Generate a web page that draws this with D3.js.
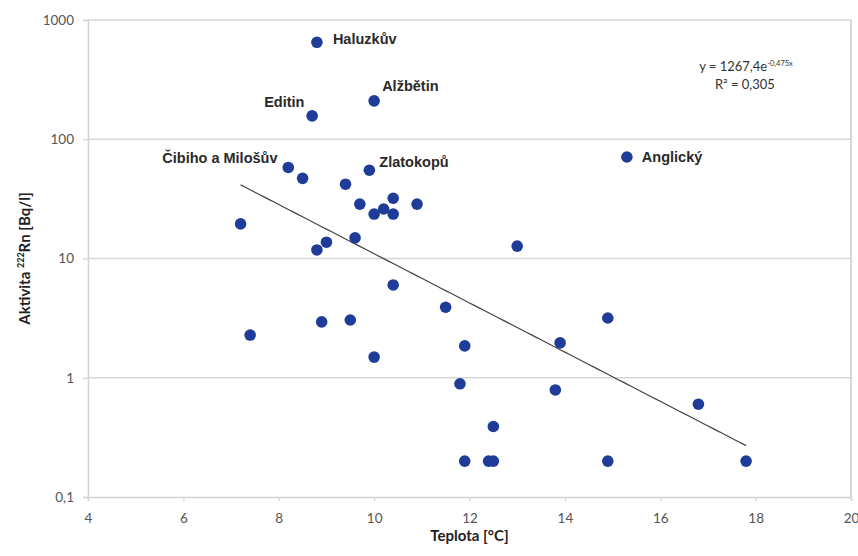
<!DOCTYPE html>
<html>
<head>
<meta charset="utf-8">
<script src="https://cdn.jsdelivr.net/npm/d3@7"></script>
<style>
  body { margin: 0; background: #fff; }
  svg { display: block; }
</style>
</head>
<body>
<svg id="chart" width="858" height="556"></svg>
<script>
// teplota [°C] a aktivita 222Rn [Bq/l]
const temps = [8.8, 10.0, 8.7, 15.3, 8.2, 8.5, 9.4, 9.9, 9.7, 10.0, 10.2, 10.4, 10.4, 10.9,
  7.2, 9.6, 9.0, 8.8, 13.0, 10.4, 11.5, 7.4, 8.9, 9.5, 10.0, 11.9, 14.9, 13.9,
  11.8, 13.8, 16.8, 12.5, 11.9, 12.4, 12.5, 14.9, 17.8];
const activity = [650, 210, 157, 71, 58, 47, 42, 55, 28.6, 23.6, 26, 32, 23.6, 28.6,
  19.5, 14.9, 13.7, 11.8, 12.7, 6.0, 3.9, 2.28, 2.94, 3.05, 1.49, 1.85, 3.17, 1.96,
  0.89, 0.79, 0.60, 0.39, 0.2, 0.2, 0.2, 0.2, 0.2];

// popisky pramenů (index bodu, text, posun)
const names = [
  { i: 0, text: 'Haluzkův', dx: 16, dy: -3 },
  { i: 1, text: 'Alžbětin', dx: 8, dy: -15 },
  { i: 2, text: 'Editin', dx: -48, dy: -14 },
  { i: 3, text: 'Anglický', dx: 15, dy: 0 },
  { i: 4, text: 'Čibiho a Milošův', dx: -126, dy: -10 },
  { i: 7, text: 'Zlatokopů', dx: 10, dy: -8 }
];

const xTicks = [4, 6, 8, 10, 12, 14, 16, 18, 20];
const yTicks = [0.1, 1, 10, 100, 1000];

// exponenciální trend y = 1267,4e^(-0,475x)
const trendA = 1267.4, trendB = -0.475;

const svg = d3.select('#chart');
const mLeft = 88, mRight = 851, mTop = 20, mBottom = 497;

const x = d3.scaleLinear().domain([4, 20]).range([mLeft, mRight]);
const y = d3.scaleLog().domain([0.1, 1000]).range([mBottom, mTop]);

const fmt = d => String(d).replace('.', ',');

// mřížka
svg.append('g').selectAll('line')
  .data(yTicks.slice(1))
  .join('line')
  .attr('x1', mLeft).attr('x2', mRight)
  .attr('y1', d => y(d)).attr('y2', d => y(d))
  .attr('stroke', '#d4d6da').attr('stroke-width', 1.5);

// pravý okraj
svg.append('line')
  .attr('x1', mRight).attr('x2', mRight).attr('y1', mTop).attr('y2', mBottom)
  .attr('stroke', '#c6cbd6').attr('stroke-width', 1.5);

// osy
const xAxis = svg.append('g')
  .attr('transform', `translate(0,${mBottom})`)
  .call(d3.axisBottom(x).tickValues(xTicks).tickSize(4).tickPadding(12).tickFormat(fmt));
const yAxis = svg.append('g')
  .attr('transform', `translate(${mLeft},0)`)
  .call(d3.axisLeft(y).tickValues(yTicks).tickSize(5).tickPadding(9).tickFormat(fmt));

[xAxis, yAxis].forEach(g => {
  g.select('.domain').attr('stroke', '#cfd2d6').attr('stroke-width', 1.5);
  g.selectAll('.tick line').attr('stroke', '#cfd2d6').attr('stroke-width', 1.2);
  g.selectAll('.tick text')
    .attr('fill', '#555')
    .style('font', '13.5px Lato, "Open Sans", sans-serif');
});

// trendová čára
const xs = d3.extent(temps);
const trend = d3.range(xs[0], xs[1] + 0.001, 0.1).map(t => [t, trendA * Math.exp(trendB * t)]);
svg.append('path')
  .datum(trend)
  .attr('fill', 'none')
  .attr('stroke', '#444')
  .attr('stroke-width', 1.2)
  .attr('d', d3.line().x(d => x(d[0])).y(d => y(d[1])));

// body
svg.append('g').selectAll('circle')
  .data(temps.map((t, i) => [t, activity[i]]))
  .join('circle')
  .attr('cx', d => x(d[0]))
  .attr('cy', d => y(d[1]))
  .attr('r', 5.8)
  .attr('fill', '#1f3c98');

// popisky
svg.append('g').selectAll('text')
  .data(names)
  .join('text')
  .attr('x', d => x(temps[d.i]) + d.dx)
  .attr('y', d => y(activity[d.i]) + d.dy)
  .attr('dy', '0.35em')
  .attr('fill', '#2a2a2a')
  .style('font', 'bold 14.5px "Liberation Sans", Arial, sans-serif')
  .text(d => d.text);

// rovnice trendu
const eq = svg.append('text')
  .attr('x', 746).attr('y', 71)
  .attr('text-anchor', 'middle')
  .attr('fill', '#333')
  .style('font', '13px Lato, sans-serif');
eq.append('tspan').text('y = 1267,4e');
eq.append('tspan').attr('dy', -5).style('font-size', '7.5px').text('-0,475x');
svg.append('text')
  .attr('x', 745).attr('y', 89)
  .attr('text-anchor', 'middle')
  .attr('fill', '#333')
  .style('font', '13px Lato, sans-serif')
  .text('R² = 0,305');

// názvy os
svg.append('text')
  .attr('x', (mLeft + mRight) / 2).attr('y', 541)
  .attr('text-anchor', 'middle')
  .attr('fill', '#222')
  .style('font', 'bold 15px Lato, sans-serif')
  .text('Teplota [°C]');

const yt = svg.append('text')
  .attr('transform', `translate(30,${(mTop + mBottom) / 2}) rotate(-90)`)
  .attr('text-anchor', 'middle')
  .attr('fill', '#222')
  .style('font', 'bold 15px Lato, sans-serif');
yt.append('tspan').text('Aktivita ');
yt.append('tspan').attr('dy', -6).style('font-size', '9px').text('222');
yt.append('tspan').attr('dy', 6).text('Rn [Bq/l]');
</script>
</body>
</html>
